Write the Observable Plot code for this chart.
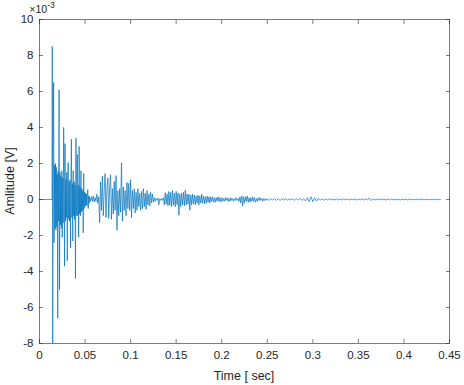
<!DOCTYPE html>
<html><head><meta charset="utf-8">
<script src="https://cdn.jsdelivr.net/npm/d3@7"></script>
<script src="https://cdn.jsdelivr.net/npm/@observablehq/plot@0.6"></script>
<style>body{margin:0;background:#fff} svg{display:block}</style>
</head><body><div id="chart"></div>
<script>
// Amplitude values in units of 1e-3 V (axis shows ×10^-3)
const leadTimes = [0, 0.0138];
const leadValues = [0, 0];

const attackStart = 0.014, attackStep = 0.0005;
const attackValues = [
  8.5, -8.0, 2.3, 6.5, -2.4, 1.9, -1.6, 2.0, -1.7, 1.8,
  -1.5, 1.4, -6.6, 1.6, -1.2, 6.1, -5.0, 1.5, -1.4, 1.3,
  -1.6, 1.6, -2.1, 1.2, -1.3, 4.0, 1.0, -3.7, 3.1, -1.2,
  1.1, -1.0, 1.5, -3.4, 1.2, 2.05, -1.1, 1.0, -1.2, 1.1,
  -2.7, 0.9, 3.35, -1.0, 0.9, -2.3, 1.6, -0.9, 1.0, -1.1,
  0.8, -4.4, 3.4, -0.9, 0.8, 2.5, -0.9, 0.8, -2.1, 2.95,
  -0.8, 0.7, -0.9, 1.6, -0.7, 0.6, -0.6, 0.5, -1.85, 1.45,
  -0.5, 0.4, -0.4, 0.35, -0.3, 0.3, -0.35, 0.25, 0.55, -0.5,
  0.2, -0.2, 0.15
];

const bodyStart = 0.056, bodyStep = 0.001;
const bodyValues = [
  -0.1, 0.15, -0.1, 0.2, -0.15, 0.1, -0.1, 0.3, -0.2, 0.15,
  -1.28, 0.98, -0.6, 1.3, -0.9, 0.5, 1.44, -1.0, 0.6, 1.2,
  -1.05, 0.7, 1.38, -1.1, 0.6, -0.8, 1.0, -0.6, 1.33, -1.7,
  0.5, -0.9, 0.6, -0.7, 2.03, -1.2, 0.7, -0.6, 0.5, -0.9,
  0.95, -0.5, 0.9, -0.6, 1.1, -1.0, 0.5, -0.5, 0.6, -0.75,
  0.4, -0.6, 0.6, -0.4, 0.35, -0.6, 0.45, -0.5, 0.6, -0.4,
  0.35, -0.55, 0.5, -0.3, 0.3, -0.35, 0.4, -0.2, 0.3, -0.15,
  0.1, -0.1, 0.05, -0.05, 0.08, -0.3, 0.05, -0.05, 0.05, -0.05,
  0.1, -0.3, 0.37, -0.25, 0.3, -0.35, 0.45, -0.3, 0.4, -0.4,
  0.5, -0.3, 0.35, -0.4, 0.45, -0.3, 0.37, -0.87, 0.3, -0.4,
  0.35, -0.3, 0.4, -0.35, 0.52, -0.3, 0.3, -0.25, 0.3, -0.6,
  0.25, -0.3, 0.3, -0.25, 0.25, -0.3, 0.2, -0.2, 0.25, -0.3,
  0.2, -0.2, 0.3, -0.2, 0.2, -0.25, 0.15, -0.2, 0.2, -0.15,
  0.15, -0.2, 0.15, -0.1, 0.15, -0.15, 0.1, -0.15, 0.1, -0.1,
  0.15, -0.1, 0.1, -0.15, 0.1, -0.1, 0.05, -0.1, 0.1, -0.05,
  0.1, -0.1, 0.05, -0.1, 0.1, -0.05, 0.05, -0.1, 0.05, -0.05,
  0.1, -0.05, 0.05, -0.1, 0.15, -0.2, 0.2, -0.37, 0.15, -0.2,
  0.15, -0.1, 0.2, -0.15, 0.1, -0.15, 0.1, -0.1, 0.15, -0.1,
  0.1, -0.15, 0.05, -0.1, 0.1, -0.05, 0.1, -0.05, 0.05, -0.1,
  0.05, -0.05, 0.05, -0.05, 0.03
];

const tailStart = 0.252, tailStep = 0.002;
const tailValues = [
  -0.05, 0.04, -0.03, 0.05, -0.04, 0.03, -0.05, 0.04, -0.03, 0.05,
  -0.04, 0.03, -0.03, 0.05, -0.05, 0.04, -0.03, 0.06, -0.05, 0.04,
  -0.08, 0.1, -0.12, 0.15, -0.12, 0.1, -0.08, 0.05, -0.04, 0.03,
  -0.04, 0.03, -0.03, 0.04, -0.03, 0.02, -0.03, 0.04, -0.03, 0.02,
  -0.03, 0.03, -0.02, 0.03, -0.03, 0.02, -0.02, 0.03, -0.03, 0.02,
  -0.02, 0.03, -0.03, 0.04, -0.03, 0.08, -0.06, 0.04, -0.03, 0.02,
  -0.02, 0.03, -0.02, 0.02, -0.03, 0.02, -0.02, 0.03, -0.02, 0.02,
  -0.02, 0.02, -0.03, 0.02, -0.02, 0.02, -0.02, 0.03, -0.02, 0.02,
  -0.02, 0.02, -0.02, 0.02, -0.02, 0.02, -0.02, 0.02, -0.02, 0.02,
  -0.02, 0.02, -0.02, 0.02, 0
];

const xTicks = [0, 0.05, 0.1, 0.15, 0.2, 0.25, 0.3, 0.35, 0.4, 0.45];
const xTickLabels = ["0", "0.05", "0.1", "0.15", "0.2", "0.25", "0.3", "0.35", "0.4", "0.45"];
const yTicks = [-8, -6, -4, -2, 0, 2, 4, 6, 8, 10];
const yTickLabels = ["-8", "-6", "-4", "-2", "0", "2", "4", "6", "8", "10"];

const xTitle = "Time [ sec]";
const yTitle = "Amlitude [V]";

// Build the sampled signal table
const rows = [];
leadTimes.forEach((t, i) => rows.push({t, v: leadValues[i]}));
attackValues.forEach((v, i) => rows.push({t: +(attackStart + i * attackStep).toFixed(5), v}));
bodyValues.forEach((v, i) => rows.push({t: +(bodyStart + i * bodyStep).toFixed(5), v}));
tailValues.forEach((v, i) => rows.push({t: +(tailStart + i * tailStep).toFixed(5), v}));

const ink = "#262626";
const fmtX = d => xTickLabels[xTicks.indexOf(d)];
const fmtY = d => yTickLabels[yTicks.indexOf(d)];

const chart = Plot.plot({
  width: 464, height: 385,
  marginTop: 19, marginRight: 15, marginBottom: 42, marginLeft: 39,
  style: {fontFamily: "'Liberation Sans', Arial, Helvetica, sans-serif", fontSize: "11.5px", color: ink, background: "#fff"},
  x: {domain: [0, 0.45]},
  y: {domain: [-8, 10]},
  marks: [
    Plot.line(rows, {x: "t", y: "v", stroke: "#0072BD", strokeWidth: 0.7, clip: true}),
    Plot.frame({stroke: ink, strokeWidth: 0.6}),
    Plot.axisX(xTicks, {anchor: "bottom", tickSize: 0, tickPadding: 7, tickFormat: fmtX, label: null, fill: ink}),
    Plot.axisX(xTicks, {anchor: "bottom", tickSize: -4, label: null, stroke: ink, strokeWidth: 0.6, fill: "none"}),
    Plot.axisX(xTicks, {anchor: "top", tickSize: -4, label: null, stroke: ink, strokeWidth: 0.6, fill: "none"}),
    Plot.axisY(yTicks, {anchor: "left", tickSize: 0, tickPadding: 6, tickFormat: fmtY, label: null, fill: ink}),
    Plot.axisY(yTicks, {anchor: "left", tickSize: -4, label: null, stroke: ink, strokeWidth: 0.6, fill: "none"}),
    Plot.axisY(yTicks, {anchor: "right", tickSize: -4, label: null, stroke: ink, strokeWidth: 0.6, fill: "none"})
  ]
});

const svg = d3.select(chart);
svg.append("text")
  .attr("x", 244).attr("y", 380)
  .attr("text-anchor", "middle")
  .attr("fill", ink).style("font-size", "12.5px")
  .text(xTitle);
svg.append("text")
  .attr("transform", "translate(14,181) rotate(-90)")
  .attr("text-anchor", "middle")
  .attr("fill", ink).style("font-size", "12.5px")
  .text(yTitle);
const ex = svg.append("text")
  .attr("x", 42).attr("y", 12.5)
  .attr("fill", ink).style("font-size", "10.5px");
ex.append("tspan").text("\u00D710");
ex.append("tspan").attr("dy", -4.5).style("font-size", "8.5px").text("-3");

document.getElementById("chart").appendChild(chart);
</script>
</body></html>
